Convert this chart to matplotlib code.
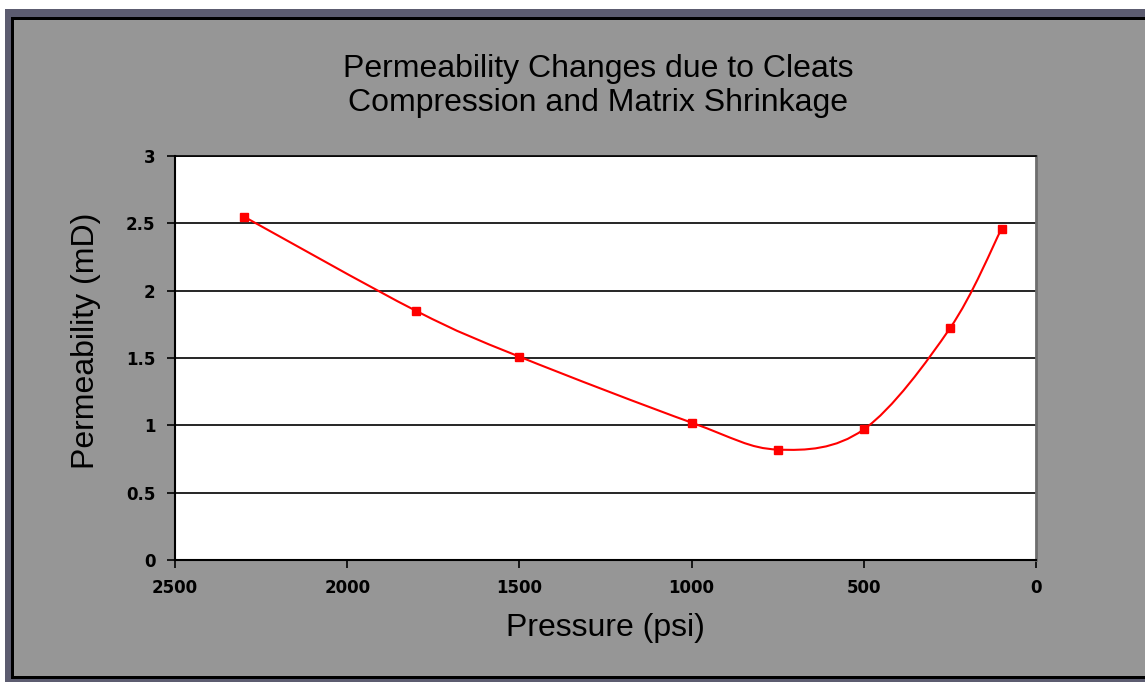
import matplotlib
matplotlib.use('Agg')
from matplotlib import pyplot as plt
from matplotlib.path import Path
from matplotlib.patches import PathPatch, Rectangle

# Data
pressure = [2300, 1800, 1500, 1000, 750, 500, 250, 100]
permeability = [2.55, 1.85, 1.51, 1.02, 0.82, 0.97, 1.72, 2.46]

x_ticks = [2500, 2000, 1500, 1000, 500, 0]
y_ticks = [0, 0.5, 1, 1.5, 2, 2.5, 3]
y_tick_labels = ['0', '0.5', '1', '1.5', '2', '2.5', '3']

title = 'Permeability Changes due to Cleats\nCompression and Matrix Shrinkage'

plt.rcParams['font.family'] = ['Liberation Sans', 'DejaVu Sans']

fig = plt.figure(figsize=(11.45, 6.82), dpi=100)
fig.patch.set_facecolor('white')

# Chart frame (gray area with dark borders)
W, H = 1145, 682
def px_rect(x0, y0, x1, y1, color):
    fig.patches.append(Rectangle((x0 / W, 1 - y1 / H), (x1 - x0) / W, (y1 - y0) / H,
                                 transform=fig.transFigure, facecolor=color,
                                 edgecolor='none', zorder=-10))

px_rect(5, 9, W, H, '#5c5c70')
px_rect(11, 17, W, 679, '#000000')
px_rect(14, 20, W, 676, '#969696')

ax = fig.add_axes([175 / W, 1 - 560 / H, 861 / W, 404 / H])
ax.set_facecolor('white')

# Excel-style smoothed line as cubic Bezier through the points
verts = [(pressure[0], permeability[0])]
codes = [Path.MOVETO]
n = len(pressure)
for i in range(n - 1):
    p0 = (pressure[max(i - 1, 0)], permeability[max(i - 1, 0)])
    p1 = (pressure[i], permeability[i])
    p2 = (pressure[i + 1], permeability[i + 1])
    p3 = (pressure[min(i + 2, n - 1)], permeability[min(i + 2, n - 1)])
    c1 = (p1[0] + (p2[0] - p0[0]) / 6, p1[1] + (p2[1] - p0[1]) / 6)
    c2 = (p2[0] - (p3[0] - p1[0]) / 6, p2[1] - (p3[1] - p1[1]) / 6)
    verts += [c1, c2, p2]
    codes += [Path.CURVE4] * 3
ax.add_patch(PathPatch(Path(verts, codes), facecolor='none', edgecolor='red',
                       lw=1.5, zorder=3))
ax.plot(pressure, permeability, linestyle='none', marker='s', markersize=5.5,
        color='red', zorder=4)

ax.set_xlim(2500, 0)
ax.set_ylim(0, 3)
ax.set_xticks(x_ticks)
ax.set_yticks(y_ticks)
ax.set_yticklabels(y_tick_labels)
ax.grid(axis='y', color='black', lw=1.2)
ax.set_axisbelow(True)

for side in ['left', 'bottom']:
    ax.spines[side].set_color('black')
    ax.spines[side].set_linewidth(1.5)
ax.spines['top'].set_color('black')
ax.spines['top'].set_linewidth(1.2)
ax.spines['right'].set_color('#6e6e6e')
ax.spines['right'].set_linewidth(2)

ax.tick_params(axis='both', direction='out', length=6, width=1.2, color='black',
               labelsize=12, pad=8)
for lbl in ax.get_xticklabels() + ax.get_yticklabels():
    lbl.set_fontweight('bold')
    lbl.set_family(['DejaVu Sans'])

ax.set_xlabel('Pressure (psi)', fontsize=23)
ax.xaxis.set_label_coords(0.5, -(628 - 560) / 404)
ax.xaxis.label.set_va('center')
ax.set_ylabel('Permeability (mD)', fontsize=23)
ax.yaxis.set_label_coords(-(175 - 86) / 861, (560 - 341) / 404)
ax.yaxis.label.set_va('center')

fig.text(598 / W, 1 - 86 / H, title, ha='center', va='center', fontsize=23,
         linespacing=1.15)

plt.savefig('out.png', dpi=100, facecolor=fig.get_facecolor())
